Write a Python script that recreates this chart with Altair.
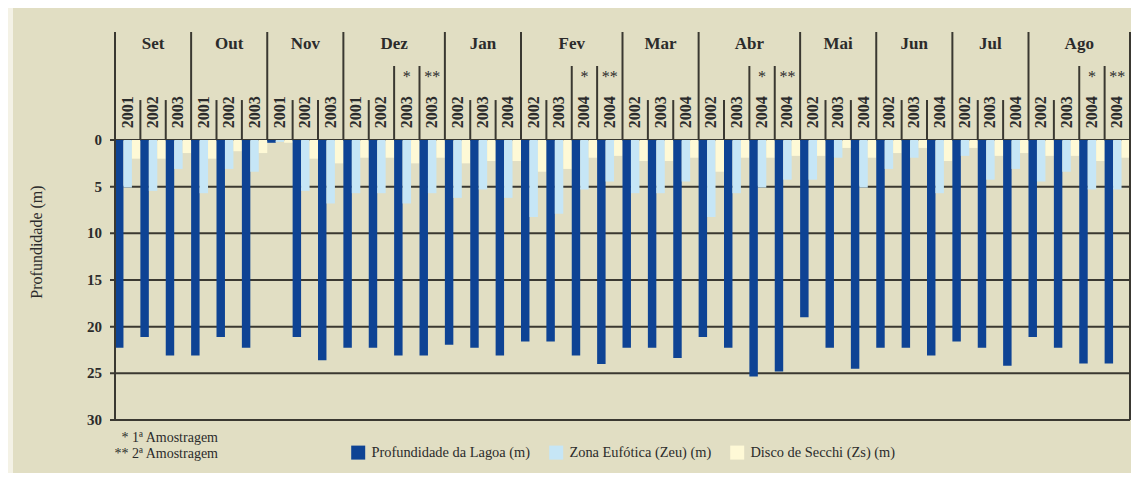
import altair as alt
import pandas as pd

# ---------------- data ----------------
months = ["Set", "Out", "Nov", "Dez", "Jan", "Fev", "Mar", "Abr", "Mai", "Jun", "Jul", "Ago"]
month_years = [
    ["2001", "2002", "2003"],
    ["2001", "2002", "2003"],
    ["2001", "2002", "2003"],
    ["2001", "2002", "2003*", "2003**"],
    ["2002", "2003", "2004"],
    ["2002", "2003", "2004*", "2004**"],
    ["2002", "2003", "2004"],
    ["2002", "2003", "2004*", "2004**"],
    ["2002", "2003", "2004"],
    ["2002", "2003", "2004"],
    ["2002", "2003", "2004"],
    ["2002", "2003", "2004*", "2004**"],
]
profundidade = [
    22.25, 21.1, 23.1,
    23.1, 21.1, 22.25,
    0.3, 21.1, 23.6,
    22.25, 22.25, 23.1, 23.1,
    21.95, 22.25, 23.1,
    21.6, 21.6, 23.1, 24.0,
    22.25, 22.25, 23.35,
    21.1, 22.25, 25.35, 24.8,
    19.0, 22.25, 24.5,
    22.25, 22.25, 23.1,
    21.6, 22.25, 24.2,
    21.1, 22.25, 23.95, 23.95,
]
zona_eufotica = [
    5.1, 5.45, 3.1,
    5.7, 3.1, 3.4,
    0.2, 5.45, 6.8,
    5.7, 5.7, 6.8, 5.7,
    6.2, 5.3, 6.2,
    8.25, 7.9, 5.3, 4.45,
    5.7, 5.7, 4.45,
    8.25, 5.7, 5.1, 4.25,
    4.25, 1.9, 5.1,
    3.1, 1.9, 5.7,
    1.7, 4.25, 3.1,
    4.45, 3.4, 5.3, 5.3,
]
disco_secchi = [
    2.0, 2.0, 1.4,
    2.0, 1.2, 1.4,
    0.3, 2.0, 2.5,
    1.9, 1.9, 2.5, 1.9,
    2.5, 2.25, 2.25,
    3.4, 3.1, 1.9, 1.7,
    2.25, 2.25, 1.9,
    3.4, 1.9, 1.9, 1.7,
    1.7, 0.85, 1.9,
    1.4, 0.85, 2.25,
    0.85, 1.7, 1.4,
    1.7, 1.7, 2.25, 1.9,
]
series_names = ["Profundidade da Lagoa (m)", "Zona Eufótica (Zeu) (m)", "Disco de Secchi (Zs) (m)"]
series_colors = ["#0E4394", "#C6E6F6", "#FEF9D6"]
footnotes = ["* 1ª Amostragem", "** 2ª Amostragem"]
y_ticks = [0, 5, 10, 15, 20, 25, 30]
y_title = "Profundidade (m)"

# ---------------- tables ----------------
cat_rows = []
for m, ys in zip(months, month_years):
    for i, yr in enumerate(ys):
        base = yr.rstrip("*")
        cat_rows.append({
            "cat": f"{m} {yr}", "month": m, "year": base, "star": yr[len(base):],
            "first": i == 0, "n": len(ys), "pos": i,
        })
cat_order = [r["cat"] for r in cat_rows]
cats = pd.DataFrame(cat_rows)

bar_rows = []
for r, a, b, c in zip(cat_rows, profundidade, zona_eufotica, disco_secchi):
    for s, v in zip(series_names, (a, b, c)):
        bar_rows.append({"cat": r["cat"], "series": s, "value": v})
bars_df = pd.DataFrame(bar_rows)

month_anchor = []
for r in cat_rows:
    if (r["n"] == 3 and r["pos"] == 1) or (r["n"] == 4 and r["pos"] == 2):
        month_anchor.append({"cat": r["cat"], "month": r["month"], "n": r["n"]})
month_df = pd.DataFrame(month_anchor)

last_df = pd.DataFrame([{"cat": cat_order[-1]}])
first_df = pd.DataFrame([{"cat": cat_order[0]}])
grid_df = pd.DataFrame({"v": y_ticks})

# ---------------- styling ----------------
FONT = "Liberation Serif"
TXT = "#2b2b2b"
LINE = "#3a3831"
PANEL = "#E1DEC3"
Y_TOP = -11.571
W, H = 1015, 388

xs = alt.Scale(domain=cat_order, paddingInner=0, paddingOuter=0)
ys = alt.Scale(domain=[Y_TOP, 30], reverse=True, nice=False, zero=False)


def X(**kw):
    return alt.X("cat:N", sort=cat_order, scale=xs, axis=None, **kw)


def YD(v):
    return alt.YDatum(v, scale=ys, axis=None)


panel = alt.Chart(alt.Data(values=[{"k": 1}])).mark_rect(color=PANEL).encode(
    x=alt.value(-102), x2=alt.value(1016), y=alt.value(-24), y2=alt.value(441)
)

# horizontal grid lines (with the 5px tick stub on the left)
grid = alt.Chart(grid_df).mark_rule(color=LINE, strokeWidth=2).encode(
    y=alt.Y("v:Q", scale=ys, axis=None), x=alt.value(-5), x2=alt.value(W)
)
y_labels = alt.Chart(grid_df).mark_text(
    align="right", baseline="middle", font=FONT, fontSize=15, fontWeight="bold",
    color=TXT).encode(y=alt.Y("v:Q", scale=ys, axis=None), x=alt.value(-13), text="v:Q")
y_title_mark = alt.Chart(alt.Data(values=[{"t": y_title}])).mark_text(
    angle=270, align="center", baseline="middle", font=FONT, fontSize=16,
    color=TXT).encode(x=alt.value(-78), y=alt.value(210), text="t:N")
left_axis = alt.Chart(first_df).mark_rule(color=LINE, strokeWidth=2).encode(
    x=X(bandPosition=0), y=YD(Y_TOP), y2=alt.datum(30))

bars = alt.Chart(bars_df).mark_bar(stroke=None).encode(
    x=X(),
    xOffset=alt.XOffset("series:N", sort=series_names,
                        scale=alt.Scale(domain=series_names, paddingInner=0, paddingOuter=0)),
    y=alt.Y("value:Q", scale=ys, axis=None),
    y2=alt.datum(0),
    color=alt.Color("series:N", sort=series_names,
                    scale=alt.Scale(domain=series_names, range=series_colors),
                    legend=alt.Legend(orient="none", legendX=236, legendY=413,
                                      direction="horizontal", title=None,
                                      symbolType="square", symbolSize=196,
                                      symbolStrokeWidth=0, symbolOpacity=1,
                                      labelFont=FONT, labelFontSize=14.4,
                                      labelColor=TXT, labelOffset=6,
                                      columnPadding=18, padding=0)),
)

month_sep = alt.Chart(cats).transform_filter("datum.first").mark_rule(
    color=LINE, strokeWidth=2).encode(x=X(bandPosition=0), y=YD(Y_TOP), y2=alt.datum(0))
star_sep = alt.Chart(cats).transform_filter("!datum.first && datum.star != ''").mark_rule(
    color=LINE, strokeWidth=2).encode(x=X(bandPosition=0), y=YD(-7.93), y2=alt.datum(0))
year_sep = alt.Chart(cats).transform_filter("!datum.first && datum.star == ''").mark_rule(
    color=LINE, strokeWidth=2).encode(x=X(bandPosition=0), y=YD(-4.28), y2=alt.datum(0))
right_border = alt.Chart(last_df).mark_rule(color=LINE, strokeWidth=2).encode(
    x=X(bandPosition=1), y=YD(Y_TOP), y2=alt.datum(30))

year_txt = alt.Chart(cats).mark_text(
    angle=270, align="left", baseline="middle", font=FONT, fontSize=16,
    fontWeight="bold", color=TXT).encode(x=X(), y=YD(-1.25), text="year:N")
star_txt = alt.Chart(cats).transform_filter("datum.star != ''").mark_text(
    align="center", baseline="middle", font=FONT, fontSize=16, color=TXT).encode(
    x=X(), y=YD(-6.7), text="star:N")
month3 = alt.Chart(month_df).transform_filter("datum.n == 3").mark_text(
    align="center", baseline="middle", font=FONT, fontSize=17, fontWeight="bold",
    color=TXT).encode(x=X(), y=YD(-10.3), text="month:N")
month4 = alt.Chart(month_df).transform_filter("datum.n == 4").mark_text(
    align="center", baseline="middle", font=FONT, fontSize=17, fontWeight="bold",
    color=TXT).encode(x=X(bandPosition=0), y=YD(-10.3), text="month:N")

fn1 = alt.Chart(alt.Data(values=[{"t": footnotes[0]}])).mark_text(
    align="right", baseline="middle", font=FONT, fontSize=14, color=TXT).encode(
    x=alt.value(103), y=alt.value(406), text="t:N")
fn2 = alt.Chart(alt.Data(values=[{"t": footnotes[1]}])).mark_text(
    align="right", baseline="middle", font=FONT, fontSize=14, color=TXT).encode(
    x=alt.value(103), y=alt.value(422), text="t:N")

chart = alt.layer(
    panel, grid, bars, month_sep, star_sep, year_sep, right_border, left_axis,
    y_labels, y_title_mark, year_txt, star_txt, month3, month4, fn1, fn2,
).properties(
    width=W, height=H,
    autosize=alt.AutoSizeParams(type="none"),
    padding={"left": 107, "top": 24, "right": 1, "bottom": 53},
    background="#F4F2E6",
).configure_view(stroke=None)

chart.save("out.html", embed_options={"renderer": "svg", "actions": False})
